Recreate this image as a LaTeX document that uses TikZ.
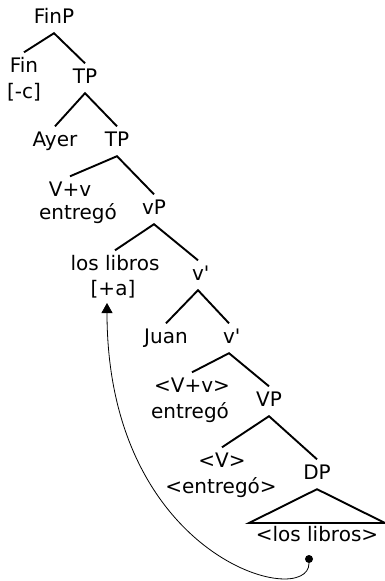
\documentclass[tikz,border=0pt]{standalone}
\usepackage{fontspec}
\setmainfont{DejaVu Sans}
\usetikzlibrary{arrows.meta}
\begin{document}
\begin{tikzpicture}[x=1pt,y=-1pt,
  every node/.style={font=\fontsize{20}{25}\selectfont, inner sep=0pt},
  tn/.style={anchor=base, text height=14.5pt, text depth=5pt, inner xsep=0pt, inner ysep=5pt},
  tl/.style={anchor=base},
  br/.style={line width=1.9pt},
  mv/.style={line width=0.8pt, -{Triangle[width=11pt,length=10pt]}}]
\useasboundingbox (0,0) rectangle (385,581);
% nodes
\node[tn] (finp) at (54,23) {FinP};
\node[tn] (fin) at (24,72) {Fin};
\node[tl] (finf) at (24,98) {[-c]};
\node[tn] (tp1) at (85,83) {TP};
\node[tn] (ayer) at (55,146) {Ayer};
\node[tn] (tp2) at (117,146) {TP};
\node[tn] (vv) at (70,196) {V+v};
\node[tl] (ent1) at (78,219) {entregó};
\node[tn] (vp) at (154,214) {vP};
\node[tn] (libros) at (115,270) {los libros};
\node[tl] (plusa) at (113,295) {[+a]};
\node[tn] (vb1) at (198,280) {v\rlap{\textquotesingle}};
\node[tn] (juan) at (166,343) {Juan};
\node[tn] (vb2) at (229,343) {v\rlap{\textquotesingle}};
\node[tn] (vv2) at (192,392) {<V+v>};
\node[tl] (ent2) at (190,418) {entregó};
\node[tn] (VP) at (269,406) {VP};
\node[tn] (V) at (222,467) {<V>};
\node[tl] (ent3) at (221,493) {<entregó>};
\node[tn] (dp) at (317,479) {DP};
\node[tl] (libros2) at (317,541) {<los libros>};
\node[circle, fill=black, minimum size=8pt] (dot) at (309,559) {};
\coordinate (tip) at (107,303);
% branches
\draw[br] (fin.north) -- (finp.south) -- (tp1.north);
\draw[br] (ayer.north) -- (tp1.south) -- (tp2.north);
\draw[br] (vv.north) -- (tp2.south) -- (vp.north);
\draw[br] (libros.north) -- (vp.south) -- (vb1.north);
\draw[br] (juan.north) -- (vb1.south) -- (vb2.north);
\draw[br] (vv2.north) -- (vb2.south) -- (VP.north);
\draw[br] (V.north) -- (VP.south) -- (dp.north);
\draw[br, line join=miter] (249,523) -- (dp.south) -- (385,523) -- cycle;
% movement
\draw[mv] (dot) .. controls (309,610) and (107,560) .. (tip);
\end{tikzpicture}
\end{document}
